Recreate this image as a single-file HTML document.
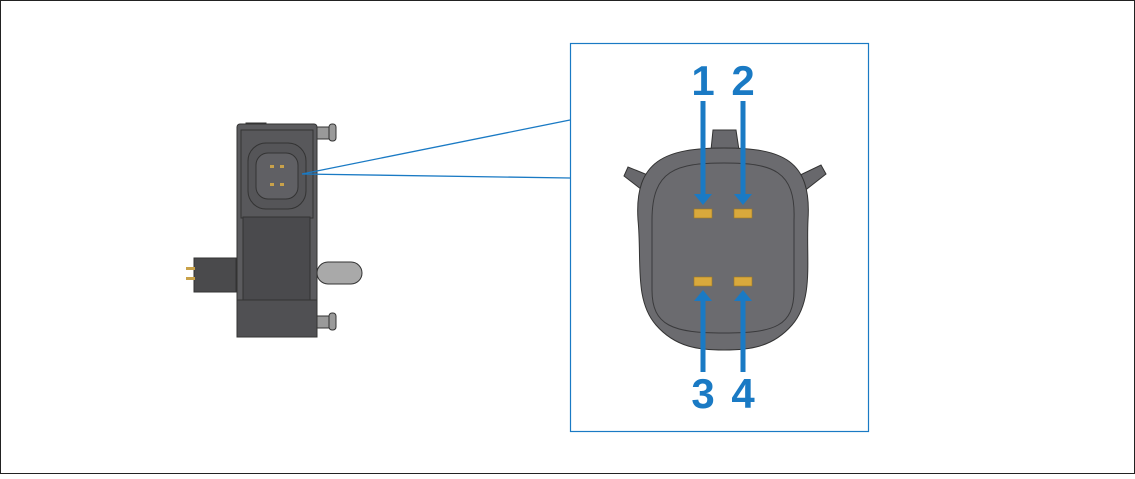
<!DOCTYPE html>
<html><head><style>
html,body{margin:0;padding:0;background:#fff}
</style></head><body>
<svg width="1135" height="474" viewBox="0 0 1135 474" xmlns="http://www.w3.org/2000/svg">
<rect x="0.5" y="0.5" width="1134" height="473" fill="#fff" stroke="#222" stroke-width="1"/>
<!-- left device -->
<g stroke="#333" stroke-width="1">
<rect x="317" y="262" width="45" height="22" rx="11" fill="#a9a9a9"/>
<rect x="194" y="258" width="42" height="34" fill="#4a4a4c"/>
<rect x="186" y="267" width="9" height="3" fill="#c9a24a" stroke="none"/>
<rect x="186" y="277" width="9" height="3" fill="#c9a24a" stroke="none"/>
<rect x="317" y="127" width="14" height="12" fill="#9a9a9a"/>
<rect x="329" y="124" width="7" height="17" rx="3" fill="#9a9a9a"/>
<rect x="317" y="316" width="14" height="12" fill="#9a9a9a"/>
<rect x="329" y="313" width="7" height="17" rx="3" fill="#9a9a9a"/>
<rect x="246" y="123" width="20" height="6" fill="#9a9a9a"/>
<rect x="246" y="330" width="20" height="6" fill="#9a9a9a"/>
<rect x="237" y="124" width="80" height="213" rx="3" fill="#5b5b5e"/>
<rect x="241" y="130" width="72" height="88" fill="#58585b"/>
<rect x="243" y="217" width="67" height="83" fill="#4a4a4d"/>
<rect x="237" y="300" width="80" height="37" fill="#505053"/>
<rect x="248" y="143" width="58" height="66" rx="18" fill="#555558"/>
<rect x="256" y="153" width="42" height="46" rx="12" fill="#606064"/>
</g>
<g fill="#c9a24a">
<rect x="270" y="165" width="4" height="3"/><rect x="280" y="165" width="4" height="3"/>
<rect x="270" y="183" width="4" height="3"/><rect x="280" y="183" width="4" height="3"/>
</g>
<!-- leader lines -->
<line x1="302" y1="174" x2="570" y2="120" stroke="#1a7ac4" stroke-width="1.3"/>
<line x1="302" y1="174" x2="570" y2="178" stroke="#1a7ac4" stroke-width="1.3"/>
<!-- box -->
<rect x="570.5" y="43.5" width="298" height="388" fill="#fff" stroke="#1a7ac4" stroke-width="1.2"/>
<!-- connector -->
<g stroke="#333" stroke-width="1">
<path d="M711 150 L713 130 L736 130 L739 150 Z" fill="#68686c"/>
<path d="M655 178 L628 167 L624 176 L646 193 Z" fill="#68686c"/>
<path d="M794 178 L821 165 L826 174 L803 192 Z" fill="#68686c"/>
<path d="M724 148 C782 148 812 160 808 220 C806 260 814 300 792 325 C772 348 748 350 724 350 C700 350 676 348 656 325 C634 300 642 260 638 220 C634 160 666 148 724 148 Z" fill="#6b6b6f"/>
<path d="M724 163 C772 163 796 170 794 220 L794 290 C794 326 775 333 724 333 C673 333 652 326 652 290 L652 220 C652 170 676 163 724 163 Z" fill="#6b6b6f" stroke="#3a3a3c"/>
</g>
<g fill="#d9a93c" stroke="#a07a20" stroke-width="0.6">
<rect x="694" y="209" width="18" height="9"/><rect x="734" y="209" width="18" height="9"/>
<rect x="694" y="277" width="18" height="9"/><rect x="734" y="277" width="18" height="9"/>
</g>
<!-- arrows -->
<g stroke="#1a7ac4" stroke-width="5" fill="none">
<line x1="703" y1="101" x2="703" y2="196"/><line x1="743" y1="101" x2="743" y2="196"/>
<line x1="703" y1="300" x2="703" y2="372"/><line x1="743" y1="300" x2="743" y2="372"/>
</g>
<g fill="#1a7ac4">
<path d="M694 194 L712 194 L703 205 Z"/><path d="M734 194 L752 194 L743 205 Z"/>
<path d="M694 301 L712 301 L703 290 Z"/><path d="M734 301 L752 301 L743 290 Z"/>
</g>
<g fill="#1a7ac4" font-family="Liberation Sans, sans-serif" font-weight="bold" font-size="42" text-anchor="middle">
<text x="703" y="95">1</text><text x="743" y="95">2</text>
<text x="703" y="408">3</text><text x="743" y="408">4</text>
</g>
</svg>
</body></html>
